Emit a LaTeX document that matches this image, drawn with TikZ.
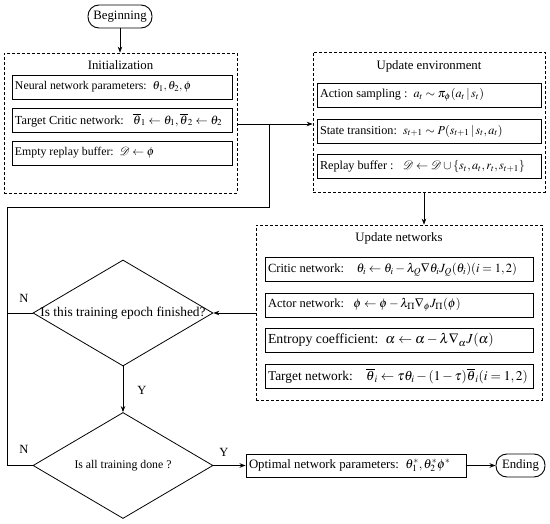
\documentclass[tikz,border=0pt]{standalone}
\usepackage{mathptmx}
\usepackage{fontspec}
\setmainfont{Liberation Serif}
\usetikzlibrary{arrows.meta,shapes.geometric}
\newcommand{\fsz}[1]{\fontsize{#1}{#1}\selectfont}
\begin{document}
\begin{tikzpicture}[x=1pt,y=-1pt,
  dbox/.style={draw, dash pattern=on 3pt off 2pt, line width=0.7pt, inner sep=0pt},
  ibox/.style={draw, line width=0.9pt, minimum height=24pt, inner xsep=3pt, inner ysep=0pt},
  pill/.style={draw, line width=0.9pt, rounded corners=11pt, minimum height=23pt, inner sep=0pt},
  dia/.style={draw, diamond, line width=0.8pt, inner sep=0pt, minimum width=180pt, minimum height=106pt},
  arr/.style={-{Stealth[length=6pt,width=4.5pt]}, line width=0.8pt},
  ln/.style={line width=0.8pt},
  ttl/.style={font=\fsz{12.8}},
  lab/.style={font=\fsz{12.5}}
]
\useasboundingbox (0,0) rectangle (550,524);

% start
\node[pill, minimum width=64pt, font=\fsz{12.8}] (beg) at (120,16.5) {Beginning};

% Initialization
\node[dbox, minimum width=233pt, minimum height=140pt] (init) at (120.5,123) {};
\node[ttl] (initT) at (120.5,65) {Initialization};
\node[ibox, font=\fsz{11.8}] (i1) at (122,87) {\makebox[214pt][l]{Neural network parameters:\ \ $\theta_1,\theta_2,\phi$}};
\node[ibox, font=\fsz{12.3}] (i2) at (122,120) {\makebox[214pt][l]{Target Critic network:\ \ \ $\overline{\theta}_1\leftarrow\theta_1,\overline{\theta}_2\leftarrow\theta_2$}};
\node[ibox, font=\fsz{11.8}] (i3) at (122,153) {\makebox[214pt][l]{Empty replay buffer:\ \ $\mathcal{D}\leftarrow\phi$}};

% Update environment
\node[dbox, minimum width=232pt, minimum height=140pt] (env) at (429,122) {};
\node[ttl] (envT) at (429,66) {Update environment};
\node[ibox, font=\fsz{12.2}] (e1) at (429,95) {\makebox[218pt][l]{Action sampling :\ \ $a_t\sim\pi_\phi(a_t\,|\,s_t)$}};
\node[ibox, font=\fsz{12.2}] (e2) at (429,131) {\makebox[218pt][l]{State transition:\ \ $s_{t+1}\sim P(s_{t+1}\,|\,s_t,a_t)$}};
\node[ibox, font=\fsz{12.2}] (e3) at (429,166.5) {\makebox[218pt][l]{Replay buffer :\ \ \ $\mathcal{D}\leftarrow\mathcal{D}\cup\{s_t,a_t,r_t,s_{t+1}\}$}};

% Update networks
\node[dbox, minimum width=286pt, minimum height=175pt] (net) at (399,312.5) {};
\node[ttl] (netT) at (399,238) {Update networks};
\node[ibox, font=\fsz{12.5}] (n1) at (399,269.5) {\makebox[262pt][l]{Critic network:\ \ \ \ $\theta_i\leftarrow\theta_i-\lambda_Q\nabla\theta_i J_Q(\theta_i)(i=1,2)$}};
\node[ibox, font=\fsz{12.5}] (n2) at (399,305) {\makebox[262pt][l]{Actor network:\ \ \ $\phi\leftarrow\phi-\lambda_\Pi\nabla_\phi J_\Pi(\phi)$}};
\node[ibox, font=\fsz{13.8}] (n3) at (399,340.5) {\makebox[262pt][l]{Entropy coefficient:\ \ $\alpha\leftarrow\alpha-\lambda\nabla_\alpha J(\alpha)$}};
\node[ibox, font=\fsz{13.4}] (n4) at (399,376) {\makebox[262pt][l]{Target network:\ \ \ \ $\overline{\theta}_i\leftarrow\tau\theta_i-(1-\tau)\overline{\theta}_i(i=1,2)$}};

% decisions
\node[dia] (ep) at (123,313) {};
\node[font=\fsz{13.4}] (epT) at (ep.center) {Is this training epoch finished?};
\node[dia] (all) at (123,465.5) {};
\node[font=\fsz{11.8}] (allT) at (all.center) {Is all training done ?};

% end
\node[ibox, minimum height=23pt, font=\fsz{12.8}] (opt) at (356,465.5) {\makebox[214pt][l]{Optimal network parameters:\ \ $\theta_1^*,\theta_2^*\phi^*$}};
\node[pill, minimum width=49pt, font=\fsz{12.8}] (end) at (520.5,465.5) {Ending};

% connectors
\coordinate (j) at (269,124);
\coordinate (lt) at (7,207);
\draw[arr] (beg.south) -- (beg.south |- init.north);
\draw[arr] (init.east |- j) -- (env.west |- j);
\draw[ln] (j) -- (j |- lt) -- (lt) -- (lt |- all.west) -- (all.west);
\draw[ln] (lt |- ep.west) -- (ep.west);
\draw[arr] ([xshift=-5pt]env.south) -- ([xshift=-5pt]env.south |- net.north);
\draw[arr] (net.west |- ep.east) -- (ep.east);
\draw[arr] (ep.south) -- (all.north);
\draw[arr] (all.east) -- (opt.west);
\draw[arr] (opt.east) -- (end.west);

% labels
\node[lab] (nA) at (24,298) {N};
\node[lab] (nB) at (24,449) {N};
\node[lab] (yA) at (142,390) {Y};
\node[lab] (yB) at (224,452) {Y};
\end{tikzpicture}
\end{document}
